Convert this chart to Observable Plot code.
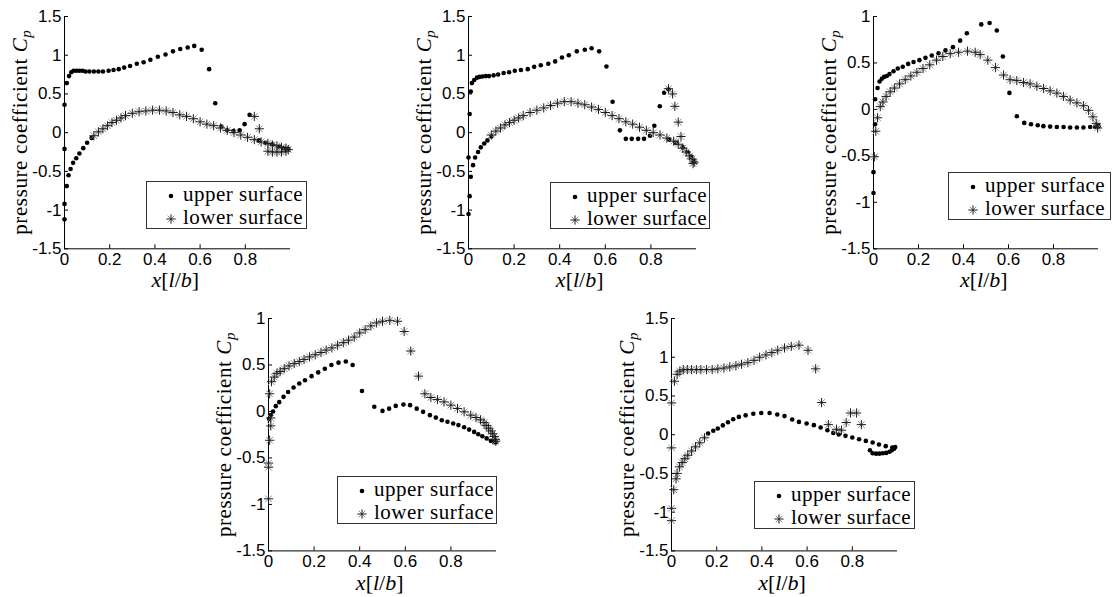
<!DOCTYPE html>
<html><head><meta charset="utf-8">
<script src="https://cdn.jsdelivr.net/npm/d3@7"></script>
<script src="https://cdn.jsdelivr.net/npm/@observablehq/plot@0.6"></script>
<style>
body{margin:0;background:#fff;}
#page{position:relative;width:1120px;height:597px;overflow:hidden;background:#fff;}
.panel{position:absolute;}
#overlay{position:absolute;left:0;top:0;pointer-events:none;}
#overlay text{font-family:"Liberation Serif","Times New Roman",serif;}
.panel svg text{font-family:"Liberation Sans",Arial,sans-serif;}
</style></head><body><div id="page"></div>
<script>
// ---------- tick values ----------
const xTicks = [0, 0.2, 0.4, 0.6, 0.8];
const yTicksWide = [-1.5, -1, -0.5, 0, 0.5, 1, 1.5];
const yTicksNarrow = [-1.5, -1, -0.5, 0, 0.5, 1];
const seriesNames = ["upper surface", "lower surface"];
const xLabel = ["x", "[", "l", "/", "b", "]"];
const yLabel = "pressure coefficient ";

// ---------- panel 1 ----------
const p1Upper = [[0,-1.12],[0,-0.92],[0.01,-0.69],[0.018,-0.55],[0,-0.21],[0,0.36],[0.01,0.64],
 [0.027,-0.47],[0.038,-0.39],[0.052,-0.33],[0.066,-0.27],[0.083,-0.20],[0.10,-0.13],[0.12,-0.07],
 [0.02,0.73],[0.03,0.78],[0.04,0.80],[0.053,0.80],[0.066,0.80],[0.08,0.80],[0.093,0.79],[0.11,0.79],[0.13,0.79],[0.15,0.79],[0.17,0.79],[0.195,0.80],[0.217,0.81],[0.24,0.82],[0.264,0.84],[0.29,0.86],[0.32,0.89],[0.35,0.91],[0.38,0.94],[0.413,0.98],[0.447,1.01],[0.48,1.05],[0.512,1.08],[0.545,1.10],[0.574,1.12],[0.607,1.07],[0.64,0.82],[0.667,0.38],[0.694,0.08],[0.72,0.03],[0.748,0.02],[0.775,0.03],[0.797,0.11],[0.819,0.23],
 [0.86,-0.10],[0.89,-0.13],[0.92,-0.15],[0.95,-0.18],[0.97,-0.20],[0.99,-0.21]];
const p1Lower = [[0.13,-0.04],[0.15,0.01],[0.17,0.05],[0.19,0.09],[0.21,0.13],[0.23,0.16],[0.25,0.19],[0.27,0.22],[0.30,0.25],[0.33,0.27],[0.36,0.28],[0.39,0.29],[0.42,0.29],[0.45,0.28],[0.48,0.26],
 [0.51,0.23],[0.54,0.21],[0.57,0.18],[0.60,0.14],[0.63,0.11],[0.66,0.09],[0.69,0.06],[0.72,0.03],[0.75,0.0],[0.78,-0.03],[0.81,-0.06],[0.84,-0.09],[0.87,-0.12],[0.90,-0.14],[0.92,-0.16],[0.94,-0.17],[0.96,-0.19],[0.98,-0.20],[0.99,-0.22],
 [0.98,-0.24],[0.96,-0.25],[0.94,-0.25],[0.92,-0.25],[0.90,-0.24],[0.84,0.21],[0.862,0.05]];

// ---------- panel 2 ----------
const p2Upper = [[0,-1.05],[0.005,-0.82],[0.01,-0.57],[0,-0.32],[0.005,0.24],[0.01,0.53],
 [0.02,-0.42],[0.029,-0.32],[0.042,-0.25],[0.054,-0.19],[0.069,-0.14],[0.083,-0.10],[0.10,-0.05],
 [0.015,0.64],[0.025,0.68],[0.037,0.71],[0.048,0.72],[0.061,0.725],[0.076,0.73],[0.09,0.73],[0.11,0.74],[0.13,0.75],[0.154,0.77],[0.178,0.78],[0.203,0.80],[0.23,0.81],[0.26,0.82],[0.288,0.85],[0.317,0.87],[0.35,0.89],[0.38,0.92],[0.41,0.97],[0.44,1.0],[0.475,1.05],[0.51,1.07],[0.54,1.09],[0.573,1.05],[0.605,0.855],[0.632,0.40],[0.664,0.03],[0.69,-0.08],[0.716,-0.08],[0.744,-0.08],[0.77,-0.08],[0.796,-0.04],[0.815,0.09],[0.839,0.34],[0.858,0.515],[0.877,0.56],
 [0.88,-0.09],[0.91,-0.13],[0.94,-0.19],[0.96,-0.25],[0.975,-0.31],[0.99,-0.37]];
const p2Lower = [[0.10,-0.03],[0.12,0.02],[0.14,0.06],[0.16,0.10],[0.18,0.13],[0.20,0.16],[0.22,0.19],[0.24,0.22],[0.27,0.26],[0.30,0.29],[0.33,0.32],[0.36,0.35],[0.39,0.38],[0.42,0.40],[0.45,0.40],[0.48,0.38],[0.51,0.36],[0.54,0.33],[0.57,0.30],[0.60,0.26],[0.63,0.22],[0.66,0.18],[0.69,0.14],[0.72,0.11],[0.75,0.07],[0.78,0.03],[0.81,0.0],[0.84,-0.03],[0.87,-0.07],[0.90,-0.11],[0.92,-0.15],[0.94,-0.20],[0.955,-0.25],[0.97,-0.30],[0.98,-0.34],[0.99,-0.38],[0.985,-0.40],
 [0.877,0.567],[0.895,0.50],[0.905,0.34],[0.92,0.136],[0.932,-0.05]];

// ---------- panel 3 ----------
const p3Upper = [[0,-0.90],[0,-0.675],[0.007,-0.16],[0.007,0.11],[0.018,0.23],
 [0.027,0.30],[0.037,0.33],[0.047,0.35],[0.059,0.36],[0.071,0.38],[0.089,0.41],[0.108,0.44],[0.13,0.46],[0.154,0.49],[0.178,0.51],[0.204,0.53],[0.231,0.555],[0.259,0.58],[0.289,0.605],[0.32,0.635],[0.353,0.67],[0.385,0.74],[0.415,0.82],[0.479,0.915],[0.516,0.93],[0.548,0.85],[0.575,0.57],[0.604,0.178],[0.637,-0.073],[0.67,-0.145],[0.70,-0.16],[0.73,-0.17],[0.755,-0.18],[0.785,-0.185],[0.815,-0.19],[0.845,-0.19],[0.874,-0.195],[0.904,-0.195],[0.933,-0.195],[0.963,-0.19],[0.985,-0.185],[1.0,-0.18]];
const p3Lower = [[0.004,-0.51],[0.01,-0.235],[0.018,-0.09],[0.03,0.03],[0.042,0.08],[0.056,0.14],[0.074,0.19],[0.093,0.23],[0.116,0.275],[0.141,0.32],[0.166,0.36],[0.193,0.40],[0.22,0.44],[0.25,0.48],[0.28,0.53],[0.308,0.57],[0.341,0.60],[0.378,0.615],[0.418,0.627],[0.452,0.615],[0.474,0.59],[0.508,0.53],[0.542,0.45],[0.578,0.37],[0.607,0.32],[0.637,0.31],[0.667,0.29],[0.696,0.275],[0.726,0.25],[0.756,0.225],[0.785,0.20],[0.815,0.175],[0.844,0.14],[0.874,0.10],[0.904,0.07],[0.933,0.04],[0.956,-0.01],[0.975,-0.08],[0.99,-0.15],[0.996,-0.20]];

// ---------- panel 4 ----------
const p4Upper = [[0.003,-0.08],[0.01,-0.04],[0.02,0.0],[0.032,0.057],[0.047,0.10],[0.066,0.157],[0.086,0.21],[0.11,0.257],[0.135,0.30],[0.16,0.336],[0.189,0.38],[0.218,0.42],[0.247,0.46],[0.276,0.50],[0.307,0.525],[0.339,0.537],[0.369,0.50],[0.41,0.22],[0.464,0.05],[0.50,0.006],[0.529,0.03],[0.558,0.06],[0.592,0.075],[0.621,0.068],[0.65,0.03],[0.678,-0.004],[0.708,-0.04],[0.734,-0.066],[0.76,-0.094],[0.785,-0.11],[0.81,-0.13],[0.833,-0.147],[0.858,-0.17],[0.88,-0.195],[0.902,-0.22],[0.92,-0.245],[0.938,-0.266],[0.957,-0.29],[0.975,-0.316],[0.99,-0.33],[0.998,-0.33]];
const p4Lower = [[0,-0.94],[0,-0.60],[0,-0.555],[0.005,-0.31],[0.01,-0.155],[0.01,-0.07],[0.005,0.19],[0.013,0.32],
 [0.025,0.37],[0.037,0.41],[0.051,0.43],[0.069,0.46],[0.09,0.49],[0.113,0.515],[0.135,0.537],[0.156,0.56],[0.18,0.587],[0.205,0.61],[0.23,0.634],[0.253,0.66],[0.278,0.684],[0.303,0.713],[0.328,0.74],[0.351,0.767],[0.376,0.80],[0.40,0.845],[0.424,0.88],[0.449,0.92],[0.474,0.953],[0.50,0.97],[0.532,0.98],[0.566,0.97],[0.595,0.86],[0.624,0.65],[0.658,0.38],[0.686,0.19],[0.712,0.15],[0.741,0.128],[0.77,0.103],[0.80,0.068],[0.829,0.032],[0.858,-0.004],[0.887,-0.04],[0.91,-0.065],[0.93,-0.09],[0.945,-0.12],[0.955,-0.15],[0.965,-0.18],[0.975,-0.21],[0.983,-0.24],[0.99,-0.27],[0.995,-0.30],[0.997,-0.32]];

// ---------- panel 5 ----------
const p5Upper = [[0.162,0.015],[0.185,0.05],[0.205,0.08],[0.227,0.12],[0.25,0.16],[0.273,0.20],[0.298,0.23],[0.328,0.25],[0.362,0.27],[0.397,0.28],[0.434,0.28],[0.468,0.26],[0.50,0.24],[0.534,0.196],[0.564,0.165],[0.598,0.145],[0.63,0.123],[0.66,0.093],[0.69,0.058],[0.716,0.023],[0.74,0.002],[0.77,-0.015],[0.80,-0.036],[0.83,-0.058],[0.86,-0.08],[0.89,-0.10],[0.918,-0.127],[0.948,-0.148],[0.977,-0.166],[0.99,-0.16],
 [0.878,-0.20],[0.89,-0.24],[0.905,-0.245],[0.92,-0.245],[0.935,-0.24],[0.95,-0.235],[0.965,-0.22],[0.975,-0.20],[0.985,-0.18]];
const p5Lower = [[0,-1.11],[0,-0.95],[0.01,-0.71],[0.02,-0.57],[0,-0.17],[0,0.41],[0.013,0.69],[0.025,0.78],
 [0.025,-0.50],[0.035,-0.415],[0.047,-0.36],[0.059,-0.31],[0.072,-0.265],[0.089,-0.21],[0.106,-0.157],[0.125,-0.105],[0.146,-0.04],
 [0.037,0.82],[0.052,0.84],[0.07,0.84],[0.089,0.84],[0.11,0.84],[0.13,0.84],[0.155,0.84],[0.18,0.84],[0.205,0.85],[0.232,0.86],[0.258,0.875],[0.285,0.89],[0.31,0.91],[0.338,0.93],[0.365,0.96],[0.39,1.0],[0.418,1.03],[0.444,1.06],[0.47,1.09],[0.50,1.12],[0.53,1.14],[0.564,1.156],[0.604,1.09],[0.638,0.85],[0.664,0.415],[0.694,0.13],[0.73,0.07],[0.752,0.058],[0.773,0.157],[0.792,0.28],[0.819,0.28],[0.84,0.13]];

// ---------- layout ----------
const panels = [
  {upper:p1Upper, lower:p1Lower, yDomain:[-1.5,1.5], yTicks:yTicksWide,   left:64.3,  top:16,    w:226, h:232.3, legend:{x:146, y:181, w:160, h:47}},
  {upper:p2Upper, lower:p2Lower, yDomain:[-1.5,1.5], yTicks:yTicksWide,   left:467.7, top:16,    w:228, h:232.3, legend:{x:550, y:182, w:159, h:46}},
  {upper:p3Upper, lower:p3Lower, yDomain:[-1.5,1],   yTicks:yTicksNarrow, left:873.3, top:16,    w:225, h:232.3, legend:{x:948, y:172, w:162, h:47}},
  {upper:p4Upper, lower:p4Lower, yDomain:[-1.5,1],   yTicks:yTicksNarrow, left:267.7, top:318.3, w:228, h:232.4, legend:{x:337, y:476, w:159, h:47}},
  {upper:p5Upper, lower:p5Lower, yDomain:[-1.5,1.5], yTicks:yTicksWide,   left:671,   top:318.3, w:226, h:232.4, legend:{x:754, y:481, w:160, h:47}}
];

const plusSym = {draw(ctx, size){const r=Math.sqrt(size/Math.PI); ctx.moveTo(-r,0); ctx.lineTo(r,0); ctx.moveTo(0,-r); ctx.lineTo(0,r);}};
const crossSym = {draw(ctx, size){const r=Math.sqrt(size/Math.PI)*0.72; ctx.moveTo(-r,-r); ctx.lineTo(r,r); ctx.moveTo(-r,r); ctx.lineTo(r,-r);}};

const page = document.getElementById("page");
const ml = 44, mr = 14, mt = 12, mb = 34;
const fmt = d => String(d);

for (const p of panels) {
  const chart = Plot.plot({
    width: p.w + ml + mr, height: p.h + mt + mb,
    marginLeft: ml, marginRight: mr, marginTop: mt, marginBottom: mb,
    x: {domain: [0, 1]},
    y: {domain: p.yDomain},
    style: {fontFamily: "'Liberation Sans', Arial, sans-serif", fontSize: "17px", color: "#000", background: "transparent", overflow: "visible"},
    marks: [
      Plot.ruleX([0], {stroke: "#000", strokeWidth: 1}),
      Plot.ruleY([p.yDomain[0]], {stroke: "#000", strokeWidth: 1}),
      Plot.axisX({ticks: xTicks, tickSize: 0, tickPadding: 4, tickFormat: fmt, label: null}),
      Plot.axisX({ticks: xTicks, tickSize: 4, dy: -4, fill: "none", label: null}),
      Plot.axisY({ticks: p.yTicks, tickSize: 0, tickPadding: 3, tickFormat: fmt, label: null}),
      Plot.axisY({ticks: p.yTicks, tickSize: 4, dx: 4, fill: "none", label: null}),
      Plot.dot(p.upper, {x: d => d[0], y: d => d[1], r: 2.3, fill: "#000", stroke: "none"}),
      Plot.dot(p.lower, {x: d => d[0], y: d => d[1], r: 4.6, symbol: crossSym, stroke: "#8a8a8a", strokeWidth: 1, fill: "none"}),
      Plot.dot(p.lower, {x: d => d[0], y: d => d[1], r: 4.6, symbol: plusSym, stroke: "#1a1a1a", strokeWidth: 1, fill: "none"})
    ]
  });
  const div = document.createElement("div");
  div.className = "panel";
  div.style.left = (p.left - ml) + "px";
  div.style.top = (p.top - mt) + "px";
  div.appendChild(chart);
  page.appendChild(div);
}

// ---------- overlay: axis titles and legends ----------
const svg = d3.select(page).append("svg").attr("id", "overlay").attr("width", 1120).attr("height", 597);
for (const p of panels) {
  const yl = svg.append("text")
    .attr("transform", `translate(${p.left - 37},${p.top + p.h / 2}) rotate(-90)`)
    .attr("text-anchor", "middle").style("font-size", "21px")
    .style("letter-spacing", "0.6px").attr("fill", "#000");
  yl.append("tspan").text(yLabel);
  yl.append("tspan").style("font-style", "italic").text("C");
  yl.append("tspan").style("font-style", "italic").style("font-size", "15px").attr("dy", 4).text("p");

  const xl = svg.append("text")
    .attr("x", p.left + p.w / 2 - 2).attr("y", p.top + p.h + 39)
    .attr("text-anchor", "middle").style("font-size", "22px").attr("fill", "#000");
  xLabel.forEach((s, i) => xl.append("tspan").style("font-style", i % 2 === 0 ? "italic" : "normal").text(s));

  const L = p.legend;
  const g = svg.append("g").attr("transform", `translate(${L.x},${L.y})`);
  g.append("rect").attr("x", 0.5).attr("y", 0.5).attr("width", L.w).attr("height", L.h)
    .attr("fill", "#fff").attr("stroke", "#333").attr("stroke-width", 1);
  g.append("circle").attr("cx", 25).attr("cy", 15).attr("r", 2.3).attr("fill", "#000");
  const s = 4.6, c = s * 0.72;
  g.append("path").attr("d", `M${25-c},${38-c}L${25+c},${38+c}M${25-c},${38+c}L${25+c},${38-c}`).attr("stroke", "#8a8a8a").attr("fill", "none");
  g.append("path").attr("d", `M${25-s},38L${25+s},38M25,${38-s}L25,${38+s}`).attr("stroke", "#1a1a1a").attr("fill", "none");
  seriesNames.forEach((name, i) => {
    g.append("text").attr("x", 37).attr("y", 20 + i * 23).style("font-size", "21px")
      .style("letter-spacing", "0.5px").attr("fill", "#000").text(name);
  });
}
</script>
</body></html>
